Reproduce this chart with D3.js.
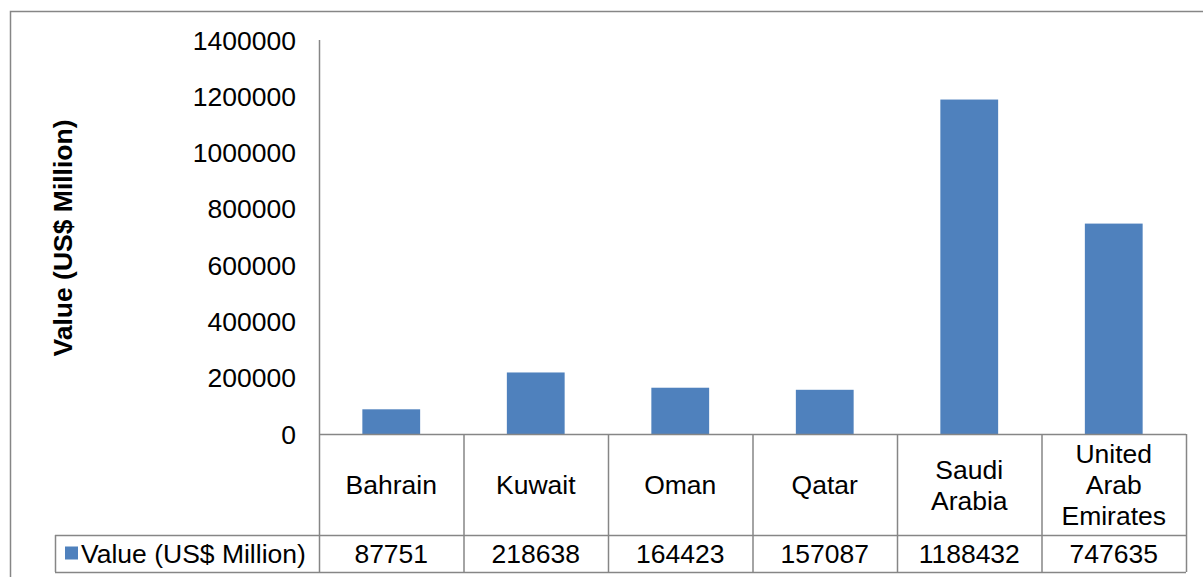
<!DOCTYPE html>
<html>
<head>
<meta charset="utf-8">
<script src="https://cdn.jsdelivr.net/npm/d3@7"></script>
<style>
  body { margin: 0; background: #fff; }
  text { font-family: "Liberation Sans", Arial, sans-serif; fill: #000; }
</style>
</head>
<body>
<div id="chart-container"></div>
<script>
var countries = ["Bahrain", "Kuwait", "Oman", "Qatar", "Saudi Arabia", "United Arab Emirates"];
var category_lines = [["Bahrain"], ["Kuwait"], ["Oman"], ["Qatar"], ["Saudi", "Arabia"], ["United", "Arab", "Emirates"]];
var values = [87751, 218638, 164423, 157087, 1188432, 747635];
var y_ticks = [0, 200000, 400000, 600000, 800000, 1000000, 1200000, 1400000];
var series_name = "Value (US$ Million)";

var svg_width = 1203;
var svg_height = 577;
var plot = {left: 319, right: 1186, top: 40, bottom: 434};
var row_mid = 535;   // line between category row and values row
var row_bottom = 572;
var legend_left = 55;
var bar_color = "#4f81bd";
var line_color = "#868686";
var font_px = "26.5px";

var svg = d3.select("#chart-container")
	.append("svg")
	.attr("width", svg_width)
	.attr("height", svg_height);

// outer chart frame (runs off the right and bottom edges)
svg.append("rect")
	.attr("x", 10.5)
	.attr("y", 11.5)
	.attr("width", svg_width + 20)
	.attr("height", svg_height + 20)
	.attr("fill", "none")
	.attr("stroke", line_color)
	.attr("stroke-width", 1.5);

var x = d3.scaleBand()
	.domain(countries)
	.range([plot.left, plot.right])
	.paddingInner(0.6)
	.paddingOuter(0.3);

var col = d3.scaleBand()
	.domain(countries)
	.range([plot.left, plot.right]);

var y = d3.scaleLinear()
	.domain([0, 1400000])
	.range([plot.bottom, plot.top]);

// y tick labels
svg.append("g")
	.selectAll("text")
	.data(y_ticks)
	.enter()
	.append("text")
	.attr("x", 296)
	.attr("y", function(d) { return y(d); })
	.attr("dy", "0.36em")
	.attr("text-anchor", "end")
	.style("font-size", font_px)
	.text(function(d) { return d; });

// bars
svg.append("g")
	.selectAll("rect")
	.data(values)
	.enter()
	.append("rect")
	.attr("x", function(d, i) { return x(countries[i]); })
	.attr("y", function(d) { return y(d); })
	.attr("width", x.bandwidth())
	.attr("height", function(d) { return y(0) - y(d); })
	.attr("fill", bar_color);

// value axis line
svg.append("line")
	.attr("x1", plot.left + 0.5).attr("x2", plot.left + 0.5)
	.attr("y1", y(1400000)).attr("y2", row_bottom)
	.attr("stroke", line_color)
	.attr("stroke-width", 1.5);

// data table grid
var grid = svg.append("g")
	.attr("stroke", line_color)
	.attr("stroke-width", 1.5);

grid.append("line")
	.attr("x1", plot.left).attr("x2", plot.right)
	.attr("y1", plot.bottom + 0.5).attr("y2", plot.bottom + 0.5);
grid.append("line")
	.attr("x1", legend_left).attr("x2", plot.right)
	.attr("y1", row_mid + 0.5).attr("y2", row_mid + 0.5);
grid.append("line")
	.attr("x1", legend_left).attr("x2", plot.right)
	.attr("y1", row_bottom + 0.5).attr("y2", row_bottom + 0.5);
grid.append("line")
	.attr("x1", legend_left + 0.5).attr("x2", legend_left + 0.5)
	.attr("y1", row_mid).attr("y2", row_bottom);

grid.selectAll(".col-line")
	.data(countries)
	.enter()
	.append("line")
	.attr("class", "col-line")
	.attr("x1", function(d) { return col(d) + col.bandwidth() + 0.5; })
	.attr("x2", function(d) { return col(d) + col.bandwidth() + 0.5; })
	.attr("y1", plot.bottom)
	.attr("y2", row_bottom);

// category labels
var line_h = 31;
var cat_mid = (plot.bottom + row_mid) / 2;
var cats = svg.append("g")
	.selectAll("text")
	.data(category_lines)
	.enter()
	.append("text")
	.attr("text-anchor", "middle")
	.style("font-size", font_px)
	.attr("transform", function(d, i) {
		return "translate(" + (col(countries[i]) + col.bandwidth() / 2) + "," + cat_mid + ")";
	});

cats.selectAll("tspan")
	.data(function(d) {
		return d.map(function(t, j) { return {t: t, j: j, n: d.length}; });
	})
	.enter()
	.append("tspan")
	.attr("x", 0)
	.attr("y", function(d) { return (d.j - (d.n - 1) / 2) * line_h; })
	.attr("dy", "0.36em")
	.text(function(d) { return d.t; });

// values row
var val_mid = (row_mid + row_bottom) / 2;
svg.append("g")
	.selectAll("text")
	.data(values)
	.enter()
	.append("text")
	.attr("x", function(d, i) { return col(countries[i]) + col.bandwidth() / 2; })
	.attr("y", val_mid)
	.attr("dy", "0.36em")
	.attr("text-anchor", "middle")
	.style("font-size", font_px)
	.text(function(d) { return d; });

// legend key in table
svg.append("rect")
	.attr("x", 65)
	.attr("y", val_mid - 7)
	.attr("width", 13)
	.attr("height", 13)
	.attr("fill", bar_color);

svg.append("text")
	.attr("x", 81)
	.attr("y", val_mid)
	.attr("dy", "0.36em")
	.style("font-size", font_px)
	.text(series_name);

// y axis title
svg.append("text")
	.attr("transform", "translate(72," + 238 + ") rotate(-90)")
	.attr("text-anchor", "middle")
	.style("font-size", "26.5px")
	.style("font-weight", "bold")
	.text(series_name);
</script>
</body>
</html>
